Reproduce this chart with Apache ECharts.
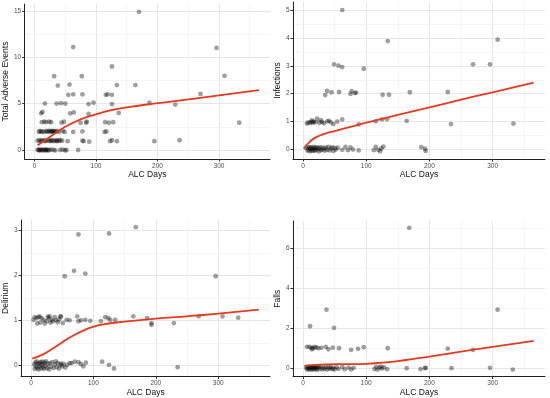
<!DOCTYPE html>
<html><head><meta charset="utf-8">
<script src="https://cdn.jsdelivr.net/npm/echarts@6/dist/echarts.min.js"></script>
<style>html,body{margin:0;padding:0;background:#fff}#c{width:550px;height:398px}</style>
</head><body><div id="c"></div>
<script>
// ---- tick labels ----
const xTicks = [0, 100, 200, 300];
const xMinor = [50, 150, 250, 350];
const taeTicks = [0, 5, 10, 15];
const taeMinor = [2.5, 7.5, 12.5];
const infTicks = [0, 1, 2, 3, 4, 5];
const infMinor = [0.5, 1.5, 2.5, 3.5, 4.5];
const delTicks = [0, 1, 2, 3];
const delMinor = [0.5, 1.5, 2.5];
const fallTicks = [0, 2, 4, 6];
const fallMinor = [1, 3, 5, 7];

// ---- Total Adverse Events: [ALC days, events] ----
const taePoints = [
 [170,14.9],[63,11.1],[296,11.0],[126,9.0],[32,7.95],[77,7.95],[309,8.0],
 [38,6.95],[57,7.05],[134,7.0],[164,7.0],
 [270,6.05],[55,5.95],[63,6.0],[78,6.0],[116,5.95],[119,6.0],[126,5.95],
 [17,5.0],[36,5.0],[43,5.05],[50,5.0],[88,4.95],[96,5.1],[126,4.95],[187,5.1],[229,4.9],
 [11,3.95],[13,4.1],[58,3.95],[64,4.05],[88,3.9],[137,4.0],
 [333,2.95],[12,3.0],[16,3.05],[19,3.0],[24,3.05],[27,3.0],[44,2.95],[48,3.05],[75,2.95],[84,2.95],[85,3.05],[115,3.0],[121,2.95],[128,3.0],
 [7,1.95],[9,2.05],[11,1.95],[13,2.0],[16,1.95],[19,2.05],[21,1.95],[23,2.05],[25,2.0],[27,2.05],[28,1.95],[30,2.0],[31,2.05],[33,1.95],[34,2.0],[37,2.05],[40,1.95],[46,2.05],[49,1.95],[63,1.95],[78,2.0],[114,1.95],[117,2.0],
 [5,1.0],[8,1.05],[10,0.95],[12,1.0],[15,1.05],[17,0.95],[19,1.0],[23,1.05],[25,0.95],[27,1.0],[29,1.05],[31,0.95],[34,1.0],[36,1.05],[37,0.95],[40,1.0],[42,1.05],[45,1.0],[54,0.95],[78,1.0],[80,0.95],[89,0.9],[123,0.95],[126,1.05],[134,0.95],[195,0.95],[236,1.05],
 [5,0.0],[7,0.05],[8,-0.05],[9,0.0],[11,0.05],[13,-0.05],[14,0.0],[16,0.05],[18,-0.05],[19,0.0],[20,0.05],[22,-0.05],[24,0.0],[27,0.05],[31,0.0],[34,-0.05],[42,0.0],[46,0.05],[50,-0.05],[52,0.0],[71,0.0]
];
const taeSmoothX = [5, 25, 50, 75, 100, 125, 150, 200, 250, 300, 365];
const taeSmoothY = [0.5, 1.4, 2.5, 3.3, 3.85, 4.3, 4.6, 5.05, 5.45, 5.9, 6.45];

// ---- Infections ----
const infPoints = [
 [62,5.02],[134,3.9],[308,3.95],
 [49,3.06],[56,3.01],[62,2.96],[96,2.9],[269,3.06],[296,3.06],
 [35,1.95],[38,2.1],[45,2.05],[57,2.06],[75,1.99],[77,2.09],[82,2.02],[84,2.04],[126,1.96],[136,1.96],[169,2.05],[229,2.06],
 [6,0.92],[8,0.96],[11,0.94],[13,0.98],[14,1.03],[16,0.95],[17,0.99],[20,0.97],[22,1.1],[26,0.95],[28,1.04],[30,0.98],[33,0.93],[38,1.0],[41,1.02],[44,0.96],[48,0.9],[54,0.99],[62,1.07],[88,0.89],[115,1.0],[125,1.07],[133,1.08],[164,1.02],[234,0.9],[333,0.92],
 [5,0.03],[7,-0.06],[8,0.05],[9,-0.02],[10,0.07],[11,-0.08],[12,0.01],[13,0.06],[14,-0.05],[15,0.02],[16,-0.07],[17,0.08],[18,-0.03],[19,0.04],[20,-0.06],[21,0.05],[22,-0.01],[24,0.06],[25,-0.08],[26,0.02],[28,-0.04],[29,0.07],[31,-0.02],[33,0.03],[34,-0.06],[36,0.05],[38,-0.03],[40,0.08],[42,-0.05],[44,0.02],[46,0.06],[48,-0.07],[50,0.04],[52,-0.02],[55,0.05],[62,-0.03],[67,0.08],[71,-0.04],[75,0.06],[79,-0.02],[88,-0.05],[112,-0.04],[115,0.08],[119,-0.03],[122,-0.08],[124,0.02],[127,0.09],[187,0.07],[193,0.01],[194,-0.07]
];
const infSmoothX = [1, 10, 20, 35, 50, 75, 100, 150, 200, 250, 300, 365];
const infSmoothY = [0.02, 0.25, 0.42, 0.56, 0.65, 0.8, 0.95, 1.23, 1.5, 1.78, 2.05, 2.4];

// ---- Delirium ----
const delPoints = [
 [168,3.07],[76,2.91],[125,2.93],[69,2.1],[54,1.98],[87,2.04],[296,1.98],
 [4,1.01],[6,1.07],[9,1.05],[10,0.93],[12,1.07],[14,1.09],[15,0.95],[17,1.05],[20,1.01],[22,0.93],[25,0.98],[27,1.08],[28,1.05],[30,1.09],[31,0.95],[33,1.01],[35,0.98],[38,1.07],[40,1.0],[43,0.96],[45,1.02],[47,1.08],[48,1.09],[51,0.94],[57,1.01],[62,1.0],[74,1.09],[76,0.98],[80,1.0],[87,1.01],[95,0.99],[112,0.98],[119,1.07],[124,1.05],[127,1.01],[135,1.01],[164,1.09],[186,1.05],[193,0.94],[193,0.9],[229,0.94],[269,1.09],[307,1.09],[332,1.06],
 [5,0.02],[6,-0.08],[7,0.06],[8,-0.03],[9,0.09],[10,-0.06],[11,0.03],[12,-0.09],[13,0.05],[14,-0.02],[15,0.07],[16,-0.07],[17,0.01],[18,0.08],[19,-0.05],[20,0.04],[21,-0.08],[22,0.06],[23,-0.02],[24,0.09],[26,-0.06],[27,0.03],[29,-0.09],[30,0.05],[32,-0.03],[34,0.07],[36,-0.06],[38,0.02],[40,0.09],[41,-0.04],[43,0.05],[45,-0.07],[47,0.01],[48,0.04],[50,-0.02],[52,0.03],[55,-0.05],[58,0.01],[62,0.05],[65,0.05],[70,0.08],[76,0.07],[80,0.03],[84,-0.02],[88,0.06],[114,0.08],[125,0.01],[133,-0.07],[235,-0.04]
];
const delSmoothX = [2, 20, 40, 60, 80, 100, 125, 150, 200, 250, 300, 365];
const delSmoothY = [0.15, 0.25, 0.42, 0.6, 0.75, 0.86, 0.93, 0.97, 1.04, 1.09, 1.15, 1.24];

// ---- Falls ----
const fallPoints = [
 [168,7.03],[37,2.93],[308,2.93],[11,2.1],[49,2.02],
 [6,1.07],[10,1.07],[13,1.02],[14,0.95],[16,1.0],[18,1.07],[21,1.04],[24,1.0],[29,1.02],[36,1.07],[40,0.95],[47,1.03],[57,1.0],[76,0.92],[87,0.97],[96,1.05],[134,1.0],[229,0.98],[269,0.92],
 [5,0.03],[6,-0.06],[7,0.07],[8,-0.02],[9,0.05],[10,-0.08],[11,0.02],[12,0.08],[13,-0.04],[14,0.06],[15,-0.07],[16,0.01],[17,0.09],[18,-0.05],[19,0.04],[20,-0.02],[21,0.07],[22,-0.08],[23,0.03],[25,0.06],[26,-0.04],[28,0.08],[30,-0.06],[32,0.02],[34,-0.03],[36,0.07],[38,-0.07],[40,0.04],[42,-0.02],[44,0.06],[46,-0.05],[48,0.02],[50,-0.06],[53,0.05],[56,-0.03],[62,0.06],[66,-0.05],[72,0.03],[76,-0.06],[80,0.02],[113,-0.04],[116,0.06],[118,-0.07],[121,0.03],[123,0.08],[125,-0.02],[128,0.05],[133,-0.05],[164,0.0],[186,-0.05],[193,0.0],[194,0.02],[235,0.0],[296,0.02],[332,-0.07]
];
const fallSmoothX = [2, 25, 50, 75, 100, 125, 150, 175, 200, 250, 300, 365];
const fallSmoothY = [0.12, 0.18, 0.2, 0.2, 0.22, 0.28, 0.36, 0.47, 0.58, 0.83, 1.07, 1.37];

const panels = [
 {name:'Total Adverse Events', pts:taePoints, sx:taeSmoothX, sy:taeSmoothY, yMin:-0.97, yMax:15.74, yTicks:taeTicks, yMinor:taeMinor, grid:{left:22,right:280,top:4,bottom:239}, gap:12},
 {name:'Infections', pts:infPoints, sx:infSmoothX, sy:infSmoothY, yMin:-0.36, yMax:5.31, yTicks:infTicks, yMinor:infMinor, grid:{left:293,right:5,top:2,bottom:239}, gap:8.5},
 {name:'Delirium', pts:delPoints, sx:delSmoothX, sy:delSmoothY, yMin:-0.25, yMax:3.23, yTicks:delTicks, yMinor:delMinor, grid:{left:18,right:280,top:220,bottom:21}, gap:8.5},
 {name:'Falls', pts:fallPoints, sx:fallSmoothX, sy:fallSmoothY, yMin:-0.42, yMax:7.37, yTicks:fallTicks, yMinor:fallMinor, grid:{left:293,right:5,top:221,bottom:21}, gap:8.5}
];

const FONT = 'Liberation Sans, Arial, sans-serif';
const grids = [], xAxes = [], yAxes = [], series = [];
panels.forEach((p, i) => {
  grids.push(Object.assign({containLabel:false}, p.grid));
  const axisCommon = {
    type:'value', gridIndex:i, splitLine:{show:false},
    axisLine:{show:true, onZero:false, lineStyle:{color:'#222', width:1}},
    nameLocation:'middle',
    nameTextStyle:{fontSize:8.5, color:'#111', fontFamily:FONT}
  };
  xAxes.push(Object.assign({}, axisCommon, {
    min:-16, max:383, name:'ALC Days', nameGap:10,
    axisTick:{show:true, customValues:xTicks, length:2.5, lineStyle:{color:'#333'}},
    axisLabel:{customValues:xTicks, fontSize:6.5, color:'#4d4d4d', margin:3.5, fontFamily:FONT}
  }));
  yAxes.push(Object.assign({}, axisCommon, {
    min:p.yMin, max:p.yMax, name:p.name, nameGap:p.gap,
    axisTick:{show:true, customValues:p.yTicks, length:2.5, lineStyle:{color:'#333'}},
    axisLabel:{customValues:p.yTicks, fontSize:6.5, color:'#4d4d4d', margin:3.5, fontFamily:FONT}
  }));
  const major = {color:'#e6e6e6', width:1, type:'solid'};
  const minor = {color:'#f2f2f2', width:0.8, type:'solid'};
  const ml = [];
  xTicks.forEach(v => ml.push({xAxis:v, lineStyle:major}));
  xMinor.forEach(v => ml.push({xAxis:v, lineStyle:minor}));
  p.yTicks.forEach(v => ml.push({yAxis:v, lineStyle:major}));
  p.yMinor.forEach(v => ml.push({yAxis:v, lineStyle:minor}));
  series.push({
    type:'line', xAxisIndex:i, yAxisIndex:i, data:[], z:0, silent:true,
    markLine:{silent:true, z:0, symbol:['none','none'], label:{show:false}, animation:false, data:ml}
  });
  series.push({
    type:'scatter', xAxisIndex:i, yAxisIndex:i, data:p.pts, symbolSize:4.8, z:2,
    itemStyle:{color:'rgba(0,0,0,0.47)'}
  });
  series.push({
    type:'line', xAxisIndex:i, yAxisIndex:i, data:p.sx.map((x,k)=>[x,p.sy[k]]),
    smooth:true, showSymbol:false, z:3,
    lineStyle:{color:'#e63a1e', width:1.8}
  });
});

const chart = echarts.init(document.getElementById('c'), null, {renderer:'canvas'});
chart.setOption({animation:false, backgroundColor:'#fff', grid:grids, xAxis:xAxes, yAxis:yAxes, series:series});
</script></body></html>
